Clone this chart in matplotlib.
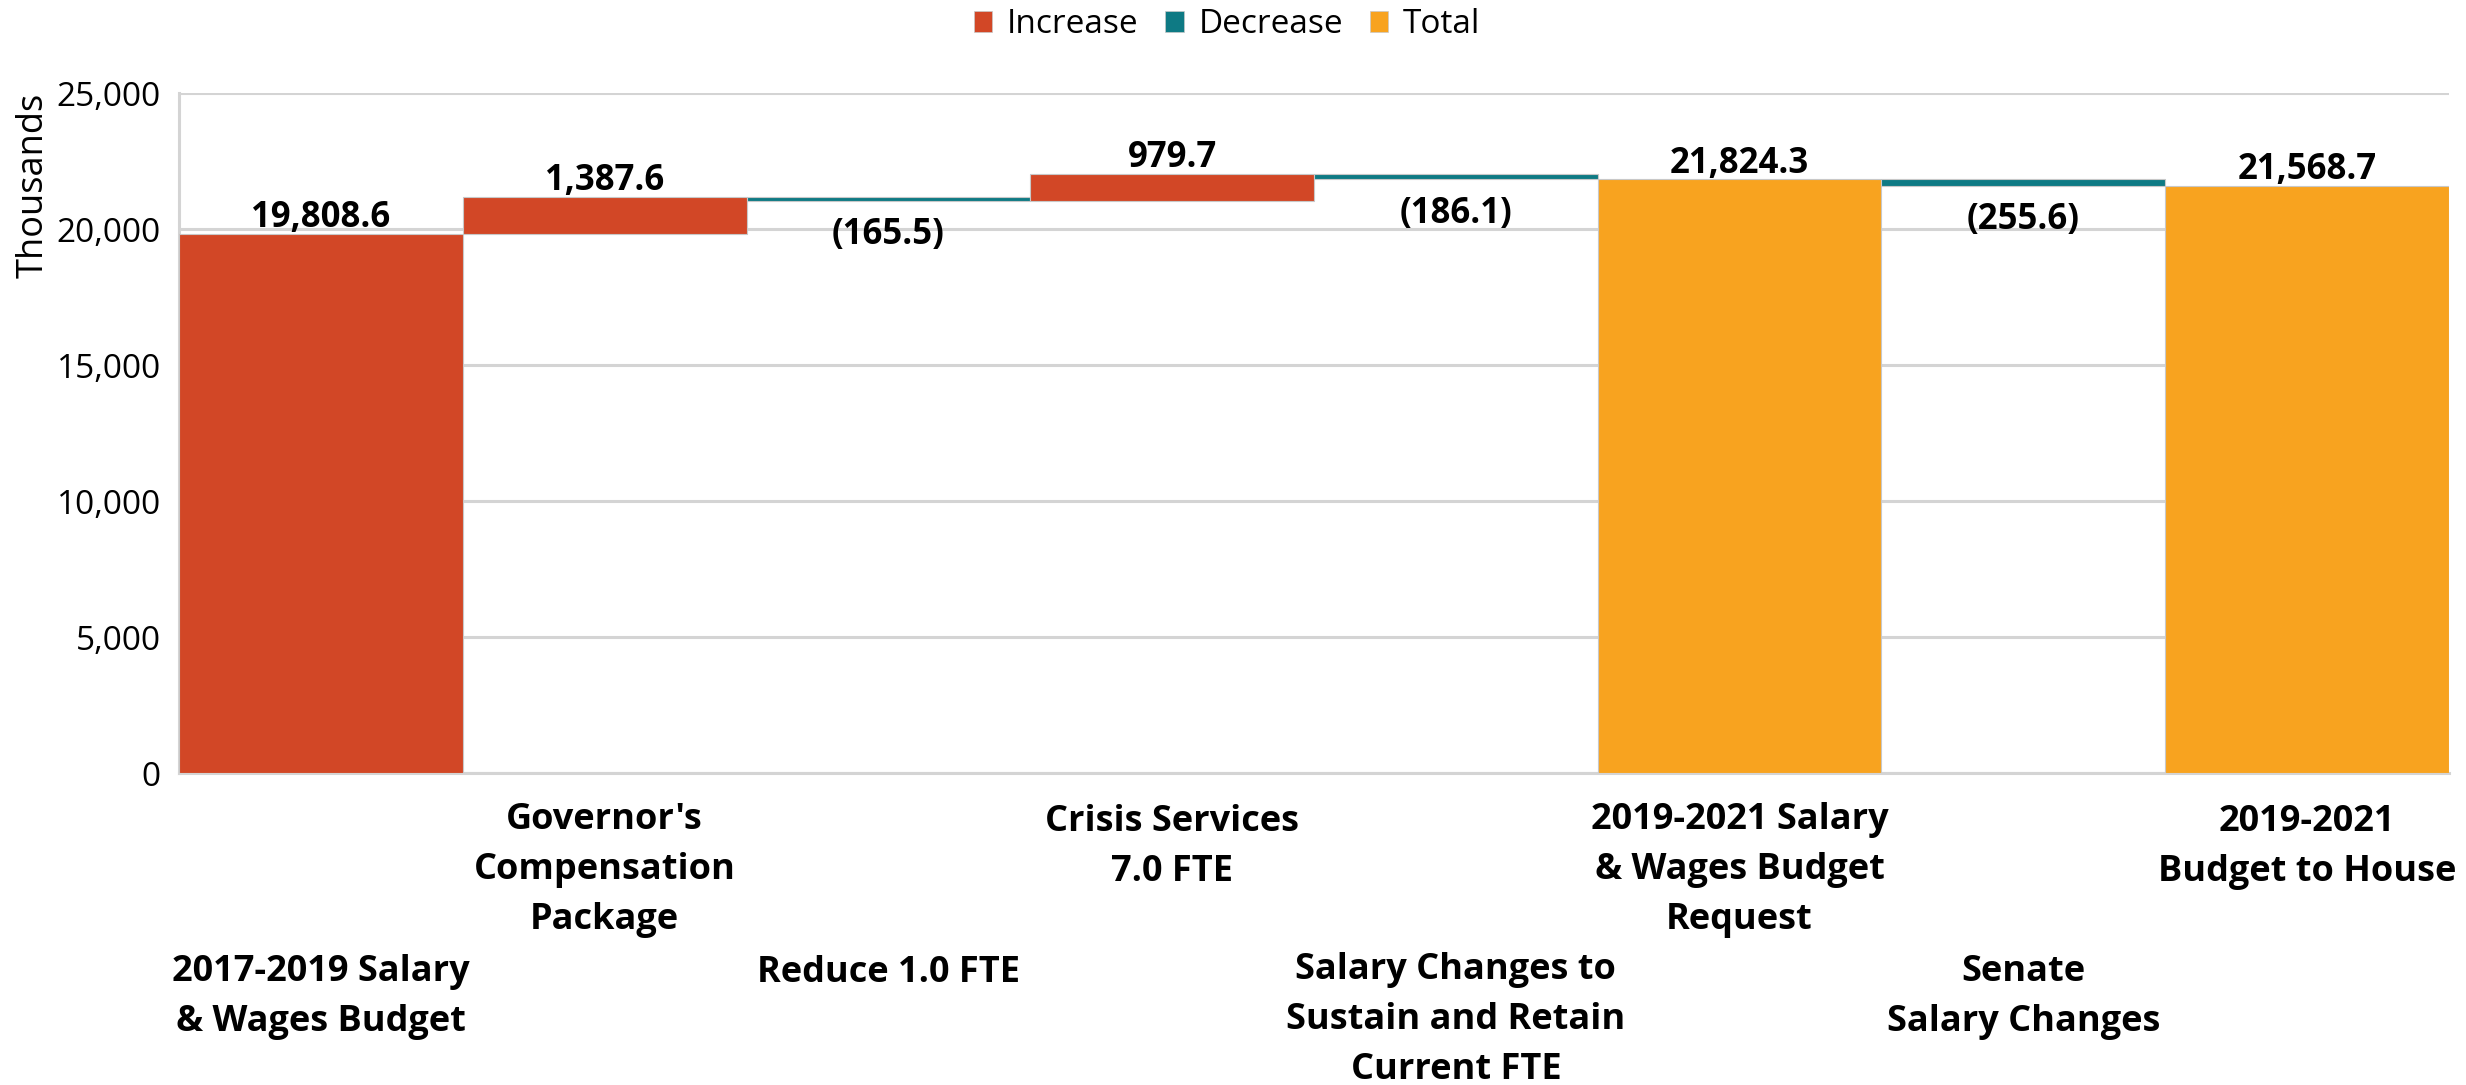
"""Waterfall of salary and wages budget changes, 2017-2019 to 2019-2021."""

import matplotlib
matplotlib.use("Agg")
import matplotlib.pyplot as plt
from matplotlib.patches import Patch
from matplotlib.ticker import FuncFormatter


CATEGORIES = [
    "2017-2019 Salary\n& Wages Budget",
    "Governor's\nCompensation\nPackage",
    "Reduce 1.0 FTE",
    "Crisis Services\n7.0 FTE",
    "Salary Changes to\nSustain and Retain\nCurrent FTE",
    "2019-2021 Salary\n& Wages Budget\nRequest",
    "Senate\nSalary Changes",
    "2019-2021\nBudget to House",
]
# change per step (thousands); totals are given as their full value
VALUES = [19808.6, 1387.6, -165.5, 979.7, -186.1, 21824.3, -255.6, 21568.7]
KINDS = ["increase", "increase", "decrease", "increase", "decrease", "total", "decrease", "total"]
Y_TICKS = [0, 5000, 10000, 15000, 20000, 25000]

COLORS = {"increase": "#D24726", "decrease": "#0E7A84", "total": "#F8A31F"}
FONT = ["Open Sans", "DejaVu Sans"]
LINE_STEP = 35.0  # points between label lines


def main() -> None:
    plt.rcParams["font.family"] = FONT
    fig = plt.figure(figsize=(24.66, 10.85), dpi=100)
    ax = fig.add_axes([0.0726, 0.2875, 0.9205, 0.6267])

    running = 0.0
    for i, (val, kind) in enumerate(zip(VALUES, KINDS)):
        if kind == "total" or i == 0:
            bottom, height = 0.0, val
            running = val
        else:
            bottom = running if val >= 0 else running + val
            height = abs(val)
            running += val
        ax.bar(i, height, bottom=bottom, width=1.0, color=COLORS[kind],
               edgecolor="#c8c8c8", linewidth=0.8, zorder=3)
        if val >= 0:
            ax.annotate(f"{val:,.1f}", (i, bottom + height), xytext=(0, 5),
                        textcoords="offset points", ha="center", va="baseline",
                        fontsize=25, fontweight="bold", zorder=4)
        else:
            ax.annotate(f"({abs(val):,.1f})", (i, bottom), xytext=(0, -31),
                        textcoords="offset points", ha="center", va="baseline",
                        fontsize=25, fontweight="bold", zorder=4)

    ax.set_xlim(-0.5, len(VALUES) - 0.5)
    ax.set_ylim(0, 25000)
    ax.set_yticks(Y_TICKS)
    ax.yaxis.set_major_formatter(FuncFormatter(lambda v, _: f"{v:,.0f}"))
    ax.tick_params(axis="y", labelsize=24, length=0, pad=13)
    ax.set_xticks([])
    ax.grid(axis="y", color="#d4d4d4", linewidth=2.2, zorder=0)
    for side in ["top", "right"]:
        ax.spines[side].set_visible(False)
    for side in ["left", "bottom"]:
        ax.spines[side].set_color("#d4d4d4")
        ax.spines[side].set_linewidth(2.2)
    ax.set_ylabel("Thousands", fontsize=26, loc="top")
    ax.yaxis.set_label_coords(-0.056, 1.0)

    # staggered category labels, like the original chart
    # va="baseline" pins the last line, so shift by the number of lines
    for i, name in enumerate(CATEGORIES):
        first = -42.5 if i % 2 else -150.5
        offset = first - LINE_STEP * name.count("\n")
        ax.annotate(name, (i, 0), xycoords=("data", "axes fraction"), xytext=(0, offset),
                    textcoords="offset points", ha="center", va="baseline", fontsize=26,
                    fontweight="bold", linespacing=1.52, annotation_clip=False)

    handles = [Patch(facecolor=COLORS[k], edgecolor="#c8c8c8", linewidth=0.5)
               for k in ["increase", "decrease", "total"]]
    fig.legend(handles, ["Increase", "Decrease", "Total"], loc="upper center",
               bbox_to_anchor=(0.4976, 1.02), ncol=3, frameon=False, fontsize=24,
               handlelength=0.55, handleheight=0.55, handletextpad=0.45, columnspacing=0.8)

    fig.savefig("out.png", dpi=100)


if __name__ == "__main__":
    main()
